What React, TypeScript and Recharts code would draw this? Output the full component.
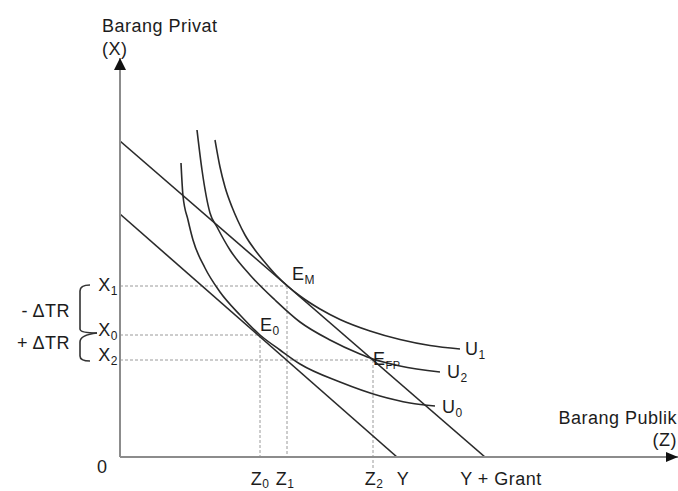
import React from "react";
import {
  ComposedChart,
  XAxis,
  YAxis,
  Line,
  ReferenceLine,
  ReferenceDot,
  ReferenceArea,
} from "recharts";

// z = barang publik (horizontal), x = barang privat (vertical), arbitrary units
const budgetBase = [
  { z: 0, x: 243 },
  { z: 277, x: 0 },
];
const budgetGrant = [
  { z: 0, x: 316 },
  { z: 365, x: 0 },
];

const u0 = [
  { z: 61, x: 294 }, { z: 63, x: 261 }, { z: 68, x: 237 }, { z: 73, x: 217 },
  { z: 85, x: 189 }, { z: 100, x: 165 }, { z: 120, x: 142 }, { z: 140, x: 122 },
  { z: 160, x: 107 }, { z: 180, x: 93 }, { z: 220, x: 75 }, { z: 260, x: 61 },
  { z: 290, x: 54 }, { z: 315, x: 51 },
];
const u1 = [
  { z: 95, x: 317 }, { z: 100, x: 290 }, { z: 105, x: 270 }, { z: 112, x: 250 },
  { z: 118, x: 236 }, { z: 125, x: 222 }, { z: 135, x: 207 }, { z: 145, x: 194.5 },
  { z: 156, x: 182 }, { z: 167, x: 171.5 }, { z: 180, x: 161 }, { z: 200, x: 148 },
  { z: 220, x: 137.5 }, { z: 250, x: 126 }, { z: 280, x: 117.5 }, { z: 310, x: 111.5 },
  { z: 340, x: 108 },
];
const u2 = [
  { z: 77, x: 327 }, { z: 82, x: 287 }, { z: 90, x: 244 }, { z: 97, x: 230 },
  { z: 110, x: 207 }, { z: 130, x: 182 }, { z: 155, x: 157 }, { z: 180, x: 135 },
  { z: 210, x: 117 }, { z: 240, x: 103 }, { z: 253, x: 98 }, { z: 280, x: 91 },
  { z: 320, x: 85 },
];

// equilibrium levels
const Z0 = 140, Z1 = 167, Z2 = 253;
const X0 = 122, X1 = 171, X2 = 97;
const Y_INT = 277, YG_INT = 365;

const zTickValues = [Z0, Z1, Z2, Y_INT, YG_INT];
const zTickMain = ["Z", "Z", "Z", "Y", "Y + Grant"];
const zTickSub = ["0", "1", "2", "", ""];

const xTickValues = [X2, X0, X1];
const xTickMain = ["X", "X", "X"];
const xTickSub = ["2", "0", "1"];

const Z_MAX = 558;
const X_MAX = 399;

// label nudges (px)
const zTickDx = [0, -2, 1, 6, 16];
const xTickDy = [1, 1, 5];

const FONT = '"Liberation Sans", Arial, Helvetica, sans-serif';
const INK = "#1c1c1c";
const CURVE = "#2a2a2a";
const AXIS = "#8c8c8c";
const DOT = "#9a9a9a";
const SPACING = 0.5;

function Rich({ x, y, main, sub, anchor = "start", subSize = 12, subDy = 4 }: any) {
  return (
    <text x={x} y={y} textAnchor={anchor} fontFamily={FONT} fontSize={18} fill={INK} letterSpacing={SPACING}>
      {main}
      {sub ? (
        <tspan fontSize={subSize} dy={subDy}>
          {sub}
        </tspan>
      ) : null}
    </text>
  );
}

function ZTick({ x, y, payload }: any) {
  const i = zTickValues.indexOf(payload.value);
  if (i < 0) return null;
  return (
    <Rich x={x + zTickDx[i]} y={y + 28} main={zTickMain[i]} sub={zTickSub[i]} subDy={3} anchor="middle" />
  );
}

function XTick({ x, y, payload }: any) {
  const i = xTickValues.indexOf(payload.value);
  if (i < 0) return null;
  return <Rich x={x - 2} y={y + xTickDy[i]} main={xTickMain[i]} sub={xTickSub[i]} anchor="end" />;
}

const note = (main: string, sub: string, dx: number, dy: number, subSize = 12) =>
  (p: any) => <Rich x={p.cx + dx} y={p.cy + dy} main={main} sub={sub} subSize={subSize} />;

const brace = (label: string, upper: boolean, textDy: number) => (p: any) => {
  const { x, y, width, height } = p;
  const xl = x;
  const xr = x + 10;
  const tip = x + width;
  const top = y;
  const bot = y + height;
  const d = upper
    ? `M ${xr} ${top - 1} Q ${xl} ${top - 1} ${xl} ${top + 5} L ${xl} ${bot - 6} Q ${xl} ${bot - 2} ${tip} ${bot - 2}`
    : `M ${tip} ${top - 2} Q ${xl} ${top} ${xl} ${top + 7} L ${xl} ${bot - 4} Q ${xl} ${bot + 1} ${xr} ${bot + 1}`;
  return (
    <g>
      <path d={d} fill="none" stroke="#333" strokeWidth={1.6} />
      <text
        x={xl - 10}
        y={(top + bot) / 2 + textDy}
        textAnchor="end"
        fontFamily={FONT}
        fontSize={18}
        fill={INK}
        letterSpacing={SPACING}
      >
        {label}
      </text>
    </g>
  );
};

const plain = (txt: string, dx: number, dy: number, anchor = "start") => (
  <text x={dx} y={dy} textAnchor={anchor} fontFamily={FONT} fontSize={18} fill={INK} letterSpacing={SPACING}>
    {txt}
  </text>
);

const dotted = { stroke: DOT, strokeWidth: 1, strokeDasharray: "3 2" };

export default function App() {
  const last = (a: { z: number; x: number }[]) => a[a.length - 1];
  return (
    <div style={{ position: "absolute", left: 0, top: 0, background: "#fff" }}>
      <ComposedChart width={678} height={491} margin={{ top: 58, right: 0, bottom: 0, left: 0 }}>
        <XAxis
          type="number"
          dataKey="z"
          domain={[0, Z_MAX]}
          allowDataOverflow
          ticks={zTickValues}
          interval={0}
          tick={<ZTick />}
          tickLine={false}
          tickSize={0}
          tickMargin={0}
          height={34}
          axisLine={{ stroke: AXIS, strokeWidth: 2 }}
        />
        <YAxis
          type="number"
          dataKey="x"
          domain={[0, X_MAX]}
          allowDataOverflow
          ticks={xTickValues}
          interval={0}
          tick={<XTick />}
          tickLine={false}
          tickSize={0}
          tickMargin={0}
          width={120}
          axisLine={{ stroke: AXIS, strokeWidth: 2 }}
        />

        <ReferenceLine segment={[{ x: 0, y: X1 }, { x: Z1, y: X1 }]} {...dotted} />
        <ReferenceLine segment={[{ x: 0, y: X0 }, { x: Z0, y: X0 }]} {...dotted} />
        <ReferenceLine segment={[{ x: 0, y: X2 }, { x: Z2, y: X2 }]} {...dotted} />
        <ReferenceLine segment={[{ x: Z0, y: X0 }, { x: Z0, y: 0 }]} {...dotted} />
        <ReferenceLine segment={[{ x: Z1, y: X1 }, { x: Z1, y: 0 }]} {...dotted} />
        <ReferenceLine segment={[{ x: Z2, y: X2 }, { x: Z2, y: -13 }]} ifOverflow="visible" {...dotted} />

        <Line data={budgetBase} dataKey="x" type="linear" stroke={CURVE} strokeWidth={1.6} dot={false} isAnimationActive={false} />
        <Line data={budgetGrant} dataKey="x" type="linear" stroke={CURVE} strokeWidth={1.6} dot={false} isAnimationActive={false} />
        <Line data={u0} dataKey="x" type="monotone" stroke={CURVE} strokeWidth={1.6} dot={false} isAnimationActive={false} />
        <Line data={u1} dataKey="x" type="monotone" stroke={CURVE} strokeWidth={1.6} dot={false} isAnimationActive={false} />
        <Line data={u2} dataKey="x" type="monotone" stroke={CURVE} strokeWidth={1.6} dot={false} isAnimationActive={false} />

        <ReferenceArea x1={-40} x2={-23} y1={X1} y2={X0} ifOverflow="visible" shape={brace("- \u0394TR", true, 6)} />
        <ReferenceArea x1={-40} x2={-23} y1={X0} y2={X2} ifOverflow="visible" shape={brace("+ \u0394TR", false, 1)} />

        <ReferenceDot x={Z1} y={X1} r={0} ifOverflow="visible" shape={note("E", "M", 5, -6)} />
        <ReferenceDot x={Z0} y={X0} r={0} ifOverflow="visible" shape={note("E", "0", 0, -4)} />
        <ReferenceDot x={Z2} y={X2} r={0} ifOverflow="visible" shape={note("E", "FP", 0, 5, 11)} />
        <ReferenceDot x={last(u1).z} y={last(u1).x} r={0} ifOverflow="visible" shape={note("U", "1", 5, 6)} />
        <ReferenceDot x={last(u2).z} y={last(u2).x} r={0} ifOverflow="visible" shape={note("U", "2", 7, 6)} />
        <ReferenceDot x={last(u0).z} y={last(u0).x} r={0} ifOverflow="visible" shape={note("U", "0", 7, 7)} />

        <ReferenceDot
          x={0}
          y={X_MAX}
          r={0}
          ifOverflow="visible"
          shape={(p: any) => (
            <g>
              <polygon points={`${p.cx},${p.cy} ${p.cx - 6},${p.cy + 12} ${p.cx + 6},${p.cy + 12}`} fill="#111" />
              {plain("Barang Privat", p.cx - 18, p.cy - 26)}
              {plain("(X)", p.cx - 18, p.cy - 3)}
            </g>
          )}
        />
        <ReferenceDot
          x={Z_MAX}
          y={0}
          r={0}
          ifOverflow="visible"
          shape={(p: any) => (
            <g>
              <polygon points={`${p.cx},${p.cy} ${p.cx - 12},${p.cy - 5} ${p.cx - 12},${p.cy + 5}`} fill="#111" />
              {plain("Barang Publik", p.cx - 1, p.cy - 33, "end")}
              {plain("(Z)", p.cx - 1, p.cy - 11, "end")}
            </g>
          )}
        />
        <ReferenceDot x={0} y={0} r={0} ifOverflow="visible" shape={(p: any) => plain("0", p.cx - 23, p.cy + 16)} />
      </ComposedChart>
    </div>
  );
}
